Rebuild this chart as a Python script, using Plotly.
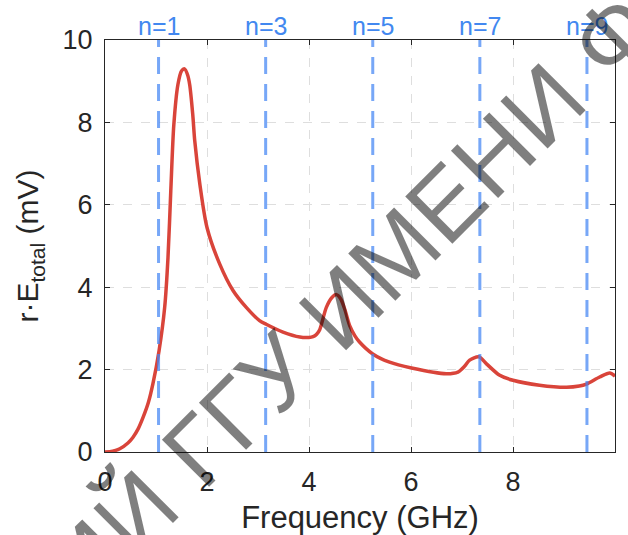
import plotly.graph_objects as go

# ---- data ----
freq_ghz = [0, 0.15, 0.29, 0.45, 0.55, 0.65, 0.75, 0.85, 0.94, 1.06, 1.17, 1.235, 1.29,
            1.35, 1.43, 1.5, 1.56, 1.62, 1.66, 1.72, 1.76, 1.86, 2.0, 2.25, 2.51, 2.77,
            3.03, 3.16, 3.49, 3.82, 4.0, 4.08, 4.15, 4.21, 4.34, 4.45, 4.54, 4.62, 4.70,
            4.80, 4.90, 4.99, 5.25, 5.58, 6.01, 6.69, 6.92, 7.05, 7.15, 7.33, 7.48, 7.74,
            8.0, 8.52, 9.05, 9.3, 9.44, 9.70, 9.90, 10.0]
e_total_mv = [0, 0.02, 0.08, 0.22, 0.36, 0.56, 0.85, 1.2, 1.66, 2.46, 3.51, 4.72, 6.34,
              7.95, 8.92, 9.25, 9.3, 9.15, 8.92, 8.2, 7.55, 6.5, 5.45, 4.56, 3.92, 3.51,
              3.19, 3.1, 2.91, 2.79, 2.78, 2.8, 2.86, 2.97, 3.51, 3.75, 3.82, 3.72, 3.47,
              3.06, 2.82, 2.67, 2.38, 2.18, 2.04, 1.9, 1.94, 2.08, 2.23, 2.31, 2.14, 1.86,
              1.74, 1.62, 1.57, 1.6, 1.65, 1.82, 1.92, 1.84]
mode_n = [1, 3, 5, 7, 9]
mode_freq = [1.05, 3.15, 5.25, 7.35, 9.45]
x_ticks = [0, 2, 4, 6, 8, 10]
y_ticks = [0, 2, 4, 6, 8, 10]
watermark = "РЕПОЗИТОРИЙ ГГУ ИМЕНИ Ф. СКОРИНЫ"

FONT = "Liberation Sans, Arial, Helvetica, sans-serif"
AX = "#262626"

fig = go.Figure()
fig.add_trace(go.Scatter(x=freq_ghz, y=e_total_mv, mode="lines",
                         line=dict(color="#d9443a", width=3.5, shape="spline", smoothing=0.8),
                         showlegend=False, hoverinfo="skip"))
for f in mode_freq:
    fig.add_trace(go.Scatter(x=[f, f], y=[0, 10], mode="lines",
                             line=dict(color="rgba(66,133,244,0.72)", width=3, dash="17px,10px"),
                             showlegend=False, hoverinfo="skip"))

annotations = []
for n, f in zip(mode_n, mode_freq):
    annotations.append(dict(x=f, y=1, xref="x", yref="paper", yanchor="bottom",
                            text=f"n={n}", showarrow=False, yshift=-2,
                            font=dict(family=FONT, size=25, color="#4288f0")))
annotations.append(dict(x=4.45, y=3.3, xref="x", yref="y", text=watermark,
                        showarrow=False, textangle=-45,
                        font=dict(family=FONT, size=97, color="rgba(0,0,0,0.5)")))

axis_common = dict(showline=True, linecolor=AX, linewidth=1.2, mirror="ticks",
                   ticks="inside", ticklen=5, tickwidth=1, tickcolor=AX,
                   showgrid=True, gridcolor="#dedede", griddash="dash", gridwidth=1,
                   zeroline=False, automargin=False,
                   tickfont=dict(family=FONT, size=27, color=AX))

fig.update_layout(
    width=628, height=535,
    margin=dict(l=105, r=13, t=40, b=83),
    plot_bgcolor="white", paper_bgcolor="white",
    xaxis=dict(range=[0, 10], tickvals=x_ticks, ticklabelstandoff=5,
               title=dict(text="Frequency (GHz)", font=dict(family=FONT, size=31, color=AX), standoff=10),
               **axis_common),
    yaxis=dict(range=[0, 10], tickvals=y_ticks, ticklabelstandoff=6,
               title=dict(text="r·E<sub>total</sub> (mV)", font=dict(family=FONT, size=30, color=AX), standoff=14),
               **axis_common),
    annotations=annotations,
)

fig.write_html("out.html")
